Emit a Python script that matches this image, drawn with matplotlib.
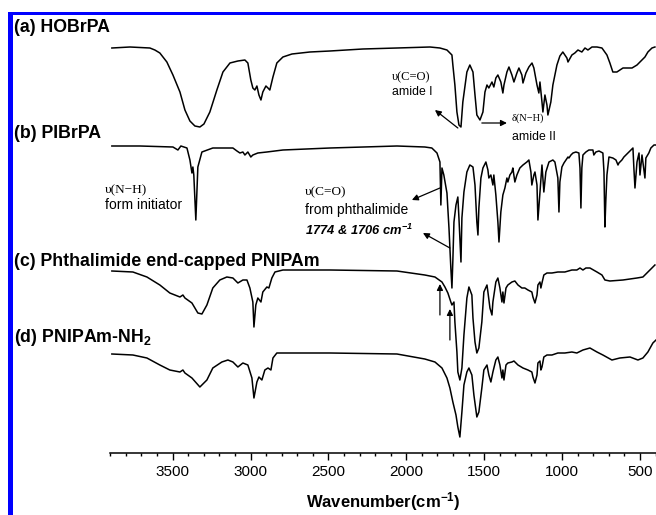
import matplotlib
matplotlib.use('Agg')
import matplotlib.pyplot as plt
from matplotlib.patches import Rectangle
from matplotlib.ticker import MultipleLocator

plt.rcParams['font.family'] = ['Liberation Sans', 'DejaVu Sans']
plt.rcParams['mathtext.default'] = 'regular'

# FTIR spectra, transmittance in arbitrary units (curves stacked with offsets)
wn_a = [3890, 3774, 3646, 3614, 3582, 3537, 3498, 3453, 3421, 3389, 3357, 3325, 3299, 3261, 3216,
        3177, 3132, 3081, 3036, 3017, 2998, 2985, 2972, 2959, 2946, 2933, 2921, 2901, 2888, 2876,
        2856, 2831, 2792, 2734, 2619, 2490, 2279, 2060, 1848, 1784, 1739, 1707, 1701, 1688, 1675,
        1662, 1649, 1637, 1611, 1592, 1572, 1559, 1547, 1527, 1508, 1495, 1482, 1470, 1450, 1438,
        1425, 1412, 1393, 1380, 1373, 1354, 1341, 1322, 1309, 1290, 1277, 1258, 1251, 1232, 1213,
        1193, 1181, 1161, 1149, 1142, 1129, 1123, 1110, 1097, 1091, 1072, 1059, 1033, 1014, 995,
        969, 962, 937, 918, 898, 873, 853, 834, 808, 776, 744, 712, 693, 674, 648, 609, 551, 519,
        500, 468, 449, 423, 404]
t_a = [4.12, 4.13, 4.12, 4.10, 4.07, 3.98, 3.85, 3.68, 3.50, 3.39, 3.34, 3.33, 3.36, 3.48, 3.70,
       3.88, 3.97, 3.99, 4.00, 3.97, 3.80, 3.72, 3.70, 3.74, 3.65, 3.60, 3.68, 3.74, 3.72, 3.70,
       3.83, 3.97, 4.03, 4.06, 4.08, 4.09, 4.11, 4.12, 4.13, 4.12, 4.10, 4.05, 3.95, 3.75, 3.48,
       3.35, 3.33, 3.58, 3.88, 3.95, 3.88, 3.65, 3.45, 3.40, 3.48, 3.68, 3.75, 3.72, 3.78, 3.73,
       3.82, 3.85, 3.78, 3.67, 3.75, 3.88, 3.93, 3.85, 3.78, 3.87, 3.92, 3.85, 3.77, 3.87, 3.93,
       3.97, 3.92, 3.75, 3.67, 3.78, 3.58, 3.48, 3.65, 3.55, 3.45, 3.58, 3.75, 3.95, 4.04, 4.08,
       4.02, 3.98, 4.05, 4.07, 4.10, 4.08, 4.12, 4.10, 4.13, 4.13, 4.12, 4.05, 3.97, 3.88, 3.88,
       3.92, 3.92, 3.95, 3.98, 4.03, 4.08, 4.12, 4.13]

wn_b = [3890, 3710, 3498, 3466, 3447, 3408, 3389, 3376, 3370, 3364, 3351, 3338, 3312, 3242, 3113,
        3087, 3068, 3049, 3036, 3017, 2998, 2985, 2953, 2895, 2792, 2490, 2279, 2060, 1881, 1836,
        1803, 1784, 1778, 1771, 1759, 1739, 1726, 1714, 1707, 1701, 1694, 1681, 1669, 1662, 1649,
        1643, 1630, 1611, 1592, 1572, 1559, 1547, 1540, 1534, 1521, 1508, 1489, 1476, 1470, 1457,
        1444, 1438, 1425, 1412, 1405, 1393, 1380, 1367, 1354, 1348, 1335, 1322, 1316, 1303, 1290,
        1271, 1251, 1226, 1213, 1200, 1194, 1181, 1174, 1161, 1155, 1142, 1129, 1123, 1117, 1104,
        1084, 1059, 1046, 1027, 1020, 1014, 1001, 988, 975, 962, 956, 943, 930, 911, 892, 885,
        879, 873, 866, 847, 828, 802, 796, 783, 763, 738, 731, 725, 719, 712, 699, 674, 654, 641,
        635, 616, 603, 577, 558, 545, 539, 532, 519, 506, 500, 487, 481, 468, 462, 443, 430, 410,
        397]
t_b = [3.14, 3.14, 3.13, 3.10, 3.14, 3.12, 3.00, 2.87, 2.93, 2.85, 2.40, 2.93, 3.08, 3.12, 3.12,
       3.09, 3.07, 3.08, 3.05, 3.08, 3.03, 3.05, 3.07, 3.08, 3.10, 3.12, 3.13, 3.14, 3.13, 3.12,
       3.07, 2.98, 2.55, 2.92, 2.85, 2.67, 2.32, 1.92, 1.72, 2.00, 2.38, 2.55, 2.63, 2.42, 1.98,
       2.42, 2.68, 2.88, 2.95, 2.93, 2.75, 2.38, 2.25, 2.52, 2.82, 2.92, 2.98, 2.90, 2.82, 2.85,
       2.75, 2.85, 2.65, 2.38, 2.18, 2.48, 2.65, 2.72, 2.82, 2.78, 2.85, 2.88, 2.92, 2.78, 2.85,
       2.92, 2.95, 2.98, 3.00, 2.88, 2.75, 2.85, 2.88, 2.75, 2.40, 2.68, 2.95, 2.82, 2.68, 2.88,
       2.98, 3.00, 2.98, 2.82, 2.48, 2.78, 2.93, 2.97, 3.00, 3.03, 3.02, 3.05, 3.07, 3.08, 3.07, 2.92,
       2.52, 2.92, 3.05, 3.08, 3.10, 3.10, 3.05, 3.08, 3.09, 3.07, 2.88, 2.33, 2.60, 2.85, 3.03,
       3.02, 3.00, 2.95, 2.97, 3.00, 3.03, 3.07, 3.10, 3.12, 2.92, 2.72, 2.98, 3.07, 2.85, 3.05,
       2.98, 2.82, 3.02, 3.07, 3.12, 3.15, 3.15]

wn_c = [3890, 3755, 3665, 3582, 3518, 3453, 3434, 3421, 3376, 3338, 3312, 3280, 3242, 3197, 3152,
        3113, 3081, 3049, 3023, 3004, 2985, 2978, 2966, 2953, 2933, 2921, 2895, 2882, 2863, 2843,
        2792, 2490, 2060, 1881, 1816, 1771, 1752, 1733, 1714, 1707, 1694, 1688, 1675, 1669, 1656,
        1643, 1630, 1611, 1598, 1579, 1572, 1559, 1547, 1534, 1515, 1502, 1482, 1476, 1463, 1450,
        1444, 1425, 1412, 1399, 1386, 1380, 1373, 1360, 1348, 1322, 1303, 1283, 1258, 1239, 1219,
        1194, 1187, 1174, 1161, 1155, 1142, 1136, 1129, 1117, 1097, 1065, 1027, 982, 937, 905, 885,
        866, 847, 821, 776, 744, 725, 693, 609, 519, 481, 436, 404]
t_c = [1.89, 1.88, 1.83, 1.75, 1.67, 1.63, 1.65, 1.62, 1.57, 1.47, 1.46, 1.55, 1.72, 1.80, 1.83,
       1.82, 1.77, 1.80, 1.80, 1.72, 1.58, 1.33, 1.55, 1.62, 1.58, 1.68, 1.73, 1.72, 1.82, 1.88,
       1.90, 1.90, 1.89, 1.85, 1.83, 1.78, 1.73, 1.67, 1.58, 1.55, 1.58, 1.38, 1.08, 0.88, 0.80,
       0.92, 1.25, 1.62, 1.73, 1.65, 1.42, 1.18, 1.07, 1.12, 1.38, 1.68, 1.75, 1.68, 1.52, 1.45,
       1.58, 1.78, 1.82, 1.72, 1.58, 1.68, 1.57, 1.72, 1.75, 1.78, 1.79, 1.75, 1.72, 1.72, 1.70,
       1.68, 1.63, 1.57, 1.65, 1.75, 1.78, 1.72, 1.77, 1.85, 1.87, 1.87, 1.88, 1.88, 1.90, 1.90, 1.92,
       1.90, 1.92, 1.92, 1.88, 1.85, 1.80, 1.79, 1.80, 1.82, 1.83, 1.90, 1.95]

wn_d = [3890, 3755, 3665, 3582, 3518, 3453, 3434, 3421, 3376, 3325, 3280, 3242, 3184, 3145, 3113,
        3081, 3049, 3017, 2991, 2978, 2959, 2946, 2927, 2908, 2888, 2869, 2856, 2831, 2490, 2060,
        1881, 1816, 1771, 1739, 1720, 1701, 1681, 1669, 1656, 1643, 1630, 1611, 1598, 1579, 1566,
        1547, 1534, 1515, 1502, 1482, 1470, 1457, 1444, 1425, 1412, 1399, 1386, 1380, 1373, 1360,
        1348, 1322, 1309, 1283, 1251, 1219, 1194, 1187, 1174, 1161, 1155, 1142, 1136, 1129, 1117,
        1097, 1065, 1027, 982, 937, 905, 866, 821, 776, 738, 680, 629, 564, 513, 481, 449, 417, 397]
t_d = [1.06, 1.05, 1.02, 0.95, 0.90, 0.88, 0.90, 0.87, 0.82, 0.73, 0.80, 0.92, 0.98, 1.00, 0.98,
       0.93, 0.97, 0.95, 0.82, 0.62, 0.78, 0.83, 0.80, 0.90, 0.92, 0.90, 1.02, 1.07, 1.07, 1.06,
       1.01, 0.98, 0.92, 0.82, 0.72, 0.58, 0.45, 0.33, 0.23, 0.48, 0.75, 0.88, 0.92, 0.85, 0.65,
       0.43, 0.48, 0.72, 0.90, 0.95, 0.85, 0.78, 0.88, 1.00, 1.03, 0.95, 0.82, 0.90, 0.80, 0.95,
       0.97, 0.98, 0.99, 0.95, 0.92, 0.90, 0.88, 0.83, 0.77, 0.85, 0.97, 0.99, 0.90, 0.93, 1.03,
       1.05, 1.05, 1.07, 1.07, 1.08, 1.07, 1.10, 1.12, 1.08, 1.05, 1.00, 1.02, 1.03, 1.00, 1.02,
       1.08, 1.17, 1.20]

fig = plt.figure(figsize=(6.56, 5.15), dpi=100)
ax = fig.add_axes([110 / 656, 62.3 / 515, 546 / 656, 437.7 / 515])

for w, t in [(wn_a, t_a), (wn_b, t_b), (wn_c, t_c), (wn_d, t_d)]:
    ax.plot(w, t, color='black', lw=1.1)

ax.set_xlim(3902, 397)
ax.set_ylim(0.073, 4.45)
for s in ['left', 'right', 'top']:
    ax.spines[s].set_visible(False)
ax.spines['bottom'].set_linewidth(1.1)
ax.set_yticks([])
ax.xaxis.set_major_locator(MultipleLocator(500))
ax.xaxis.set_minor_locator(MultipleLocator(100))
ax.tick_params(axis='x', which='major', direction='out', length=5, width=1, labelsize=11, pad=4)
ax.tick_params(axis='x', which='minor', direction='out', length=2.5, width=1)
ax.set_xlabel('Wavenumber(cm$^{-1}$)', fontsize=12, fontweight='bold', labelpad=8)

# annotations
serif = ['Liberation Serif', 'DejaVu Serif']
ax.text(1970, 3.83, 'υ(C=O)', family=serif, fontsize=9, ha='center', va='center')
ax.text(1964, 3.68, 'amide I', fontsize=8.8, ha='center', va='center')
ax.text(1322, 3.42, 'δ(N−H)', family=serif, fontsize=7.5, ha='left', va='center')
ax.text(1322, 3.23, 'amide II', fontsize=8.8, ha='left', va='center')
ax.text(3935, 2.70, 'υ(N−H)', family=serif, fontsize=9.5, ha='left', va='center')
ax.text(3935, 2.55, 'form initiator', fontsize=10, ha='left', va='center')
ax.text(2651, 2.68, 'υ(C=O)', family=serif, fontsize=9.5, ha='left', va='center')
ax.text(2651, 2.50, 'from phthalimide', fontsize=10, ha='left', va='center')
ax.text(2651, 2.30, '1774 & 1706 cm$^{-1}$', fontsize=9.3, fontweight='bold', style='italic',
        ha='left', va='center')

arr = dict(arrowstyle='-|>', color='black', lw=0.9, mutation_scale=9, shrinkA=0, shrinkB=0)
ax.annotate('', xy=(1816, 3.50), xytext=(1669, 3.32), arrowprops=arr)
ax.annotate('', xy=(1354, 3.37), xytext=(1515, 3.37), arrowprops=arr)
ax.annotate('', xy=(1964, 2.60), xytext=(1784, 2.72), arrowprops=arr)
ax.annotate('', xy=(1893, 2.27), xytext=(1720, 2.12), arrowprops=arr)
ax.annotate('', xy=(1784, 1.76), xytext=(1784, 1.45), arrowprops=arr)
ax.annotate('', xy=(1720, 1.51), xytext=(1720, 1.20), arrowprops=arr)

# sample labels
lab = dict(fontsize=12.8, fontweight='bold', ha='left', va='center')
fig.text(14 / 656, 1 - 28 / 515, '(a) HOBrPA', **lab)
fig.text(14 / 656, 1 - 134 / 515, '(b) PIBrPA', **lab)
fig.text(14 / 656, 1 - 262 / 515, '(c) Phthalimide end-capped PNIPAm', **lab)
fig.text(14 / 656, 1 - 337 / 515, '(d) PNIPAm-NH$_2$', **lab)

# blue frame
blue = '#0000ff'
fig.add_artist(Rectangle((8 / 656, 1 - 15.3 / 515), 648 / 656, 3.3 / 515,
                         transform=fig.transFigure, color=blue, lw=0))
fig.add_artist(Rectangle((8 / 656, 0), 4.7 / 656, 1 - 12 / 515,
                         transform=fig.transFigure, color=blue, lw=0))

fig.savefig('out.png', dpi=100)
